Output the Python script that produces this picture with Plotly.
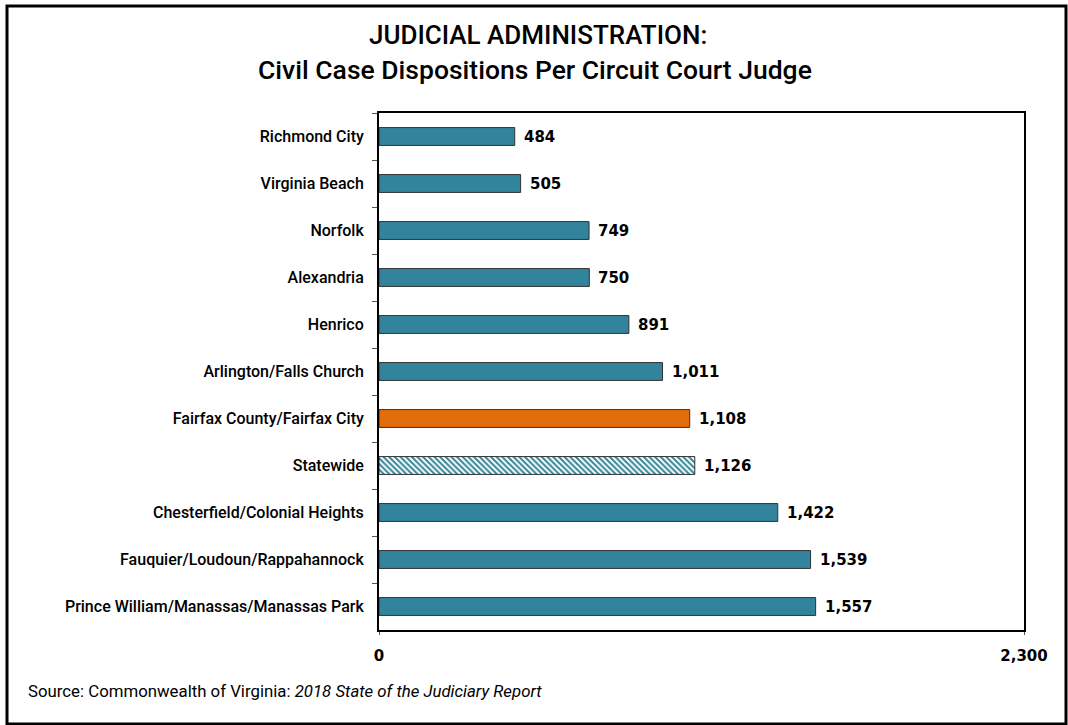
import plotly.graph_objects as go

categories = ["Richmond City", "Virginia Beach", "Norfolk", "Alexandria", "Henrico",
              "Arlington/Falls Church", "Fairfax County/Fairfax City", "Statewide",
              "Chesterfield/Colonial Heights", "Fauquier/Loudoun/Rappahannock",
              "Prince William/Manassas/Manassas Park"]
values = [484, 505, 749, 750, 891, 1011, 1108, 1126, 1422, 1539, 1557]
x_ticks = [0, 2300]
x_tick_labels = ["0", "2,300"]

TEAL = "#31849B"
ORANGE = "#E36C0A"
HIGHLIGHT = "Fairfax County/Fairfax City"
AVERAGE = "Statewide"

FONT = "Roboto"
NUMFONT = "DejaVu Sans"

solid_vals = [None if c == AVERAGE else v for c, v in zip(categories, values)]
solid_cols = [ORANGE if c == HIGHLIGHT else TEAL for c in categories]
avg_vals = [v if c == AVERAGE else None for c, v in zip(categories, values)]

fig = go.Figure()
fig.add_trace(go.Bar(
    x=solid_vals, y=categories, orientation="h",
    marker=dict(color=solid_cols, line=dict(color="#333333", width=1)),
    width=0.38, showlegend=False, hoverinfo="skip",
))
fig.add_trace(go.Bar(
    x=avg_vals, y=categories, orientation="h",
    marker=dict(color=TEAL, line=dict(color="#333333", width=1),
                pattern=dict(shape="\\", fgcolor=TEAL, bgcolor="white",
                             size=4, solidity=0.5, fillmode="replace")),
    width=0.38, showlegend=False, hoverinfo="skip",
))

L, R, T, B = 379, 1024, 113, 630
W, H = 1068, 725
pw, ph = R - L, B - T

annotations = []
for c, v in zip(categories, values):
    annotations.append(dict(x=v, y=c, xref="x", yref="y", text=f"{v:,}",
                            xanchor="left", yanchor="middle", xshift=7, showarrow=False,
                            font=dict(family=NUMFONT, size=15, color="black", weight="bold")))

annotations += [
    dict(xref="paper", yref="paper", x=(538 - L) / pw, y=(B - 35) / ph,
         xanchor="center", yanchor="middle", showarrow=False,
         text="JUDICIAL ADMINISTRATION:",
         font=dict(family=FONT, size=26, color="black", weight=500)),
    dict(xref="paper", yref="paper", x=(535 - L) / pw, y=(B - 69) / ph,
         xanchor="center", yanchor="middle", showarrow=False,
         text="Civil Case Dispositions Per Circuit Court Judge",
         font=dict(family=FONT, size=26.5, color="black", weight=500)),
    dict(xref="paper", yref="paper", x=(26 - L) / pw, y=(B - 691) / ph,
         xanchor="left", yanchor="middle", showarrow=False,
         text="Source: Commonwealth of Virginia: <i>2018 State of the Judiciary Report</i>",
         font=dict(family=FONT, size=16.8, color="black")),
]

fig.update_layout(
    width=W, height=H, barmode="overlay",
    margin=dict(l=L, r=W - R, t=T, b=H - B, pad=0),
    paper_bgcolor="white", plot_bgcolor="white",
    font=dict(family=FONT, color="black"),
    xaxis=dict(range=[0, 2300], tickvals=x_ticks, ticktext=x_tick_labels,
               showgrid=False, zeroline=False, showline=True, linecolor="black",
               linewidth=2, mirror=True, ticks="outside", ticklen=3, tickcolor="#555",
               ticklabelstandoff=8,
               tickfont=dict(family=NUMFONT, size=15, color="black", weight="bold")),
    yaxis=dict(categoryorder="array", categoryarray=categories, autorange="reversed",
               showgrid=False, zeroline=False, showline=True, linecolor="black",
               linewidth=2, mirror=True, ticks="outside", ticklen=5, tickcolor="#555",
               tickson="boundaries", ticklabelstandoff=10,
               tickfont=dict(family=FONT, size=16, color="black", weight=500)),
    shapes=[dict(type="rect", xref="paper", yref="paper",
                 x0=(7 - L) / pw, x1=(1066 - L) / pw,
                 y0=(B - 724) / ph, y1=(B - 6) / ph,
                 line=dict(color="black", width=3))],
    annotations=annotations,
)

fig.write_html("out.html", config={"displayModeBar": False},
               post_script="document.body.style.margin='0';document.body.style.overflow='hidden';")
